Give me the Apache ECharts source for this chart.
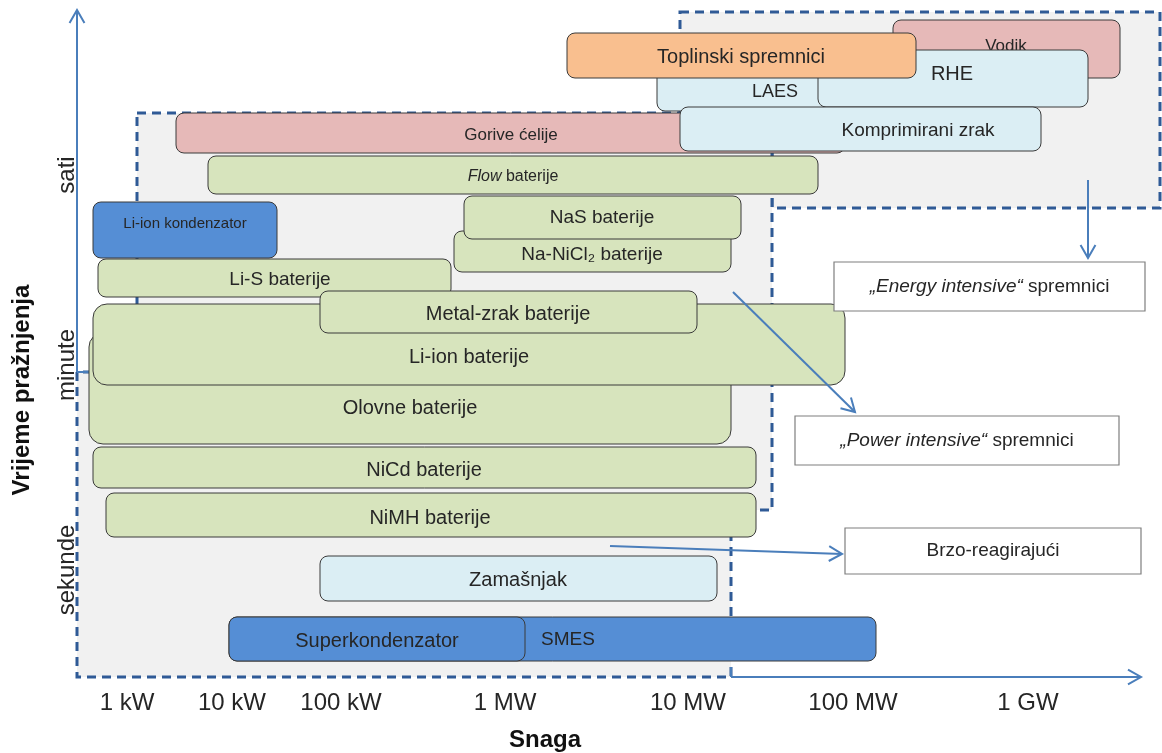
<!DOCTYPE html>
<html>
<head>
<meta charset="utf-8">
<title>Spremnici energije - snaga i vrijeme pražnjenja</title>
<script src="https://cdn.jsdelivr.net/npm/echarts@6/dist/echarts.min.js"></script>
<style>
  html, body { margin: 0; padding: 0; background: #fff; }
  #chart { width: 1162px; height: 753px; }
</style>
</head>
<body>
<div id="chart"></div>
<script>
// tehnologije (redoslijed = redoslijed crtanja, zadnja je na vrhu)
// x: položaj na osi snage, y: položaj na osi vremena (prema dolje kraće)
var techNames = ['Vodik', 'LAES', 'RHE', 'Toplinski spremnici', 'Gorive ćelije', 'Komprimirani zrak',
  'Flow baterije', 'Li-ion kondenzator', 'Na-NiCl₂ baterije', 'NaS baterije', 'Li-S baterije',
  'Olovne baterije', 'Li-ion baterije', 'Metal-zrak baterije', 'NiCd baterije', 'NiMH baterije',
  'Zamašnjak', 'SMES', 'Superkondenzator'];
var techX0 = [893, 657, 818, 567, 176, 680, 208, 93, 454, 464, 98, 89, 93, 320, 93, 106, 320, 229, 229];
var techX1 = [1120, 830, 1088, 916, 845, 1041, 818, 277, 731, 741, 451, 731, 845, 697, 756, 756, 717, 876, 525];
var techY0 = [20, 50, 50, 33, 113, 107, 156, 202, 231, 196, 259, 333, 304, 291, 447, 493, 556, 617, 617];
var techY1 = [78, 111, 107, 78, 153, 151, 194, 258, 272, 239, 297, 444, 385, 333, 488, 537, 601, 661, 661];
var techKind = ['h2', 'mech', 'mech', 'heat', 'h2', 'mech', 'bat', 'elec', 'bat', 'bat', 'bat',
  'bat', 'bat', 'bat', 'bat', 'bat', 'mech', 'elec', 'elec'];

// oznake osi
var powerTicks = ['1 kW', '10 kW', '100 kW', '1 MW', '10 MW', '100 MW', '1 GW'];
var powerTickPos = [127, 232, 341, 505, 688, 853, 1028];
var timeTicks = ['sati', 'minute', 'sekunde'];
var timeTickPos = [175, 365, 570];

// područja (isprekidani okviri)
var powerRegion = [[137, 113], [772, 113], [772, 510], [731, 510], [731, 677], [77, 677], [77, 372], [137, 372]];
var energyRegion = [[680, 12], [1160, 12], [1160, 208], [772, 208], [772, 113], [680, 113]];

// kategorije spremnika
var noteTexts = ['{i|„Energy intensive“} spremnici', '{i|„Power intensive“} spremnici', 'Brzo-reagirajući'];
var noteX0 = [834, 795, 845];
var noteX1 = [1145, 1119, 1141];
var noteY0 = [262, 416, 528];
var noteY1 = [311, 465, 574];

// strelice
var arrowX0 = [77, 731, 1088, 733, 610];
var arrowY0 = [372, 677, 180, 292, 546];
var arrowX1 = [77, 1141, 1088, 855, 842];
var arrowY1 = [10, 677, 258, 412, 554];

// ---- izgled ----
var fills = { h2: '#e6b9b8', mech: '#dbeef4', heat: '#f9bf8f', bat: '#d7e4bd', elec: '#558ed5' };
var labelAt = {
  'Vodik': [1006, 46, 17], 'LAES': [775, 92, 18], 'RHE': [952, 74, 20],
  'Toplinski spremnici': [741, 57, 20], 'Gorive ćelije': [511, 135, 17],
  'Komprimirani zrak': [918, 131, 19], 'Flow baterije': [513, 177, 16],
  'Li-ion kondenzator': [185, 224, 15], 'Na-NiCl₂ baterije': [592, 255, 19],
  'NaS baterije': [602, 218, 19], 'Li-S baterije': [280, 280, 19],
  'Olovne baterije': [410, 408, 20], 'Li-ion baterije': [469, 357, 20],
  'Metal-zrak baterije': [508, 314, 20], 'NiCd baterije': [424, 470, 20],
  'NiMH baterije': [430, 518, 20], 'Zamašnjak': [518, 580, 20],
  'SMES': [568, 640, 19], 'Superkondenzator': [377, 641, 20]
};
var FONT = '"Liberation Sans", Arial, sans-serif';
var TXT = '#262626';
var BLUE = '#4a7ebb';

var chart = echarts.init(document.getElementById('chart'));

function regionItem(pts) {
  return function (params, api) {
    return {
      type: 'polygon',
      shape: { points: pts.map(function (p) { return api.coord(p); }) },
      style: { fill: '#f1f1f1', stroke: '#2f5a96', lineWidth: 3, lineDash: [9, 6] }
    };
  };
}

function techItem(params, api) {
  var i = params.dataIndex;
  var a = api.coord([techX0[i], techY0[i]]);
  var b = api.coord([techX1[i], techY1[i]]);
  var name = techNames[i];
  var lab = labelAt[name];
  var c = api.coord([lab[0], lab[1]]);
  var h = b[1] - a[1];
  var text = name === 'Flow baterije' ? '{i|Flow} baterije' : name;
  return {
    type: 'group',
    children: [{
      type: 'rect',
      z2: i * 2,
      shape: { x: a[0], y: a[1], width: b[0] - a[0], height: h, r: h > 70 ? 14 : 8 },
      style: { fill: fills[techKind[i]], stroke: '#3a3a3a', lineWidth: 1 }
    }, {
      type: 'text',
      z2: i * 2 + 1,
      x: c[0], y: c[1],
      style: {
        text: text, fill: TXT, align: 'center', verticalAlign: 'middle',
        font: lab[2] + 'px ' + FONT,
        rich: { i: { fontStyle: 'italic', fontSize: lab[2], fontFamily: FONT, fill: TXT } }
      }
    }]
  };
}

function noteItem(params, api) {
  var i = params.dataIndex;
  var a = api.coord([noteX0[i], noteY0[i]]);
  var b = api.coord([noteX1[i], noteY1[i]]);
  return {
    type: 'group',
    children: [{
      type: 'rect',
      shape: { x: a[0], y: a[1], width: b[0] - a[0], height: b[1] - a[1] },
      style: { fill: '#fff', stroke: '#7f7f7f', lineWidth: 1.2 }
    }, {
      type: 'text',
      x: (a[0] + b[0]) / 2, y: (a[1] + b[1]) / 2,
      style: {
        text: noteTexts[i], fill: TXT, align: 'center', verticalAlign: 'middle',
        font: '19px ' + FONT,
        rich: { i: { fontStyle: 'italic', fontSize: 19, fontFamily: FONT, fill: TXT } }
      }
    }]
  };
}

function arrowItem(params, api) {
  var i = params.dataIndex;
  var a = api.coord([arrowX0[i], arrowY0[i]]);
  var b = api.coord([arrowX1[i], arrowY1[i]]);
  var ang = Math.atan2(b[1] - a[1], b[0] - a[0]);
  var L = 15, w = 0.52;
  var h1 = [b[0] - L * Math.cos(ang - w), b[1] - L * Math.sin(ang - w)];
  var h2 = [b[0] - L * Math.cos(ang + w), b[1] - L * Math.sin(ang + w)];
  return {
    type: 'group',
    children: [
      { type: 'line', shape: { x1: a[0], y1: a[1], x2: b[0], y2: b[1] }, style: { stroke: BLUE, lineWidth: 2 } },
      { type: 'polyline', shape: { points: [h1, b, h2] }, style: { stroke: BLUE, lineWidth: 2, fill: null } }
    ]
  };
}

function stubItem(params, api) {
  var p = api.coord([api.value(0), api.value(1)]);
  var q = api.coord([api.value(2), api.value(3)]);
  return { type: 'line', shape: { x1: p[0], y1: p[1], x2: q[0], y2: q[1] }, style: { stroke: BLUE, lineWidth: 2 } };
}

function powerTickItem(params, api) {
  var i = params.dataIndex;
  var p = api.coord([powerTickPos[i], 703]);
  return {
    type: 'text', x: p[0], y: p[1],
    style: { text: powerTicks[i], fill: TXT, align: 'center', verticalAlign: 'middle', font: '24px ' + FONT }
  };
}

function timeTickItem(params, api) {
  var i = params.dataIndex;
  var p = api.coord([67, timeTickPos[i]]);
  return {
    type: 'text', x: p[0], y: p[1], rotation: Math.PI / 2,
    style: { text: timeTicks[i], fill: TXT, align: 'center', verticalAlign: 'middle', font: '24px ' + FONT }
  };
}

function titleItem(params, api) {
  var i = params.dataIndex;
  var p = api.coord([api.value(0), api.value(1)]);
  return {
    type: 'text', x: p[0], y: p[1], rotation: i === 0 ? Math.PI / 2 : 0,
    style: {
      text: i === 0 ? 'Vrijeme pražnjenja' : 'Snaga', fill: '#111', align: 'center',
      verticalAlign: 'middle', font: 'bold 24px ' + FONT
    }
  };
}

var base = { type: 'custom', coordinateSystem: 'cartesian2d', silent: true, clip: false, animation: false };

chart.setOption({
  backgroundColor: '#fff',
  animation: false,
  grid: { left: 0, right: 0, top: 0, bottom: 0 },
  xAxis: { type: 'value', min: 0, max: 1162, show: false },
  yAxis: { type: 'value', min: 0, max: 753, inverse: true, show: false },
  series: [
    Object.assign({}, base, { z: 1, renderItem: regionItem(energyRegion), data: [energyRegion[0]] }),
    Object.assign({}, base, { z: 1, renderItem: regionItem(powerRegion), data: [powerRegion[0]] }),
    Object.assign({}, base, {
      z: 2, renderItem: stubItem,
      data: [[77, 372, 91, 372], [731, 667, 731, 677]]
    }),
    Object.assign({}, base, {
      z: 3, renderItem: techItem,
      data: techNames.map(function (n, i) { return [techX0[i], techY0[i]]; })
    }),
    Object.assign({}, base, {
      z: 4, renderItem: arrowItem,
      data: arrowX0.map(function (x, i) { return [x, arrowY0[i]]; })
    }),
    Object.assign({}, base, {
      z: 5, renderItem: noteItem,
      data: noteX0.map(function (x, i) { return [x, noteY0[i]]; })
    }),
    Object.assign({}, base, {
      z: 5, renderItem: powerTickItem,
      data: powerTickPos.map(function (x) { return [x, 703]; })
    }),
    Object.assign({}, base, {
      z: 5, renderItem: timeTickItem,
      data: timeTickPos.map(function (y) { return [67, y]; })
    }),
    Object.assign({}, base, {
      z: 5, renderItem: titleItem,
      data: [[22, 390], [545, 740]]
    })
  ]
});
</script>
</body>
</html>
